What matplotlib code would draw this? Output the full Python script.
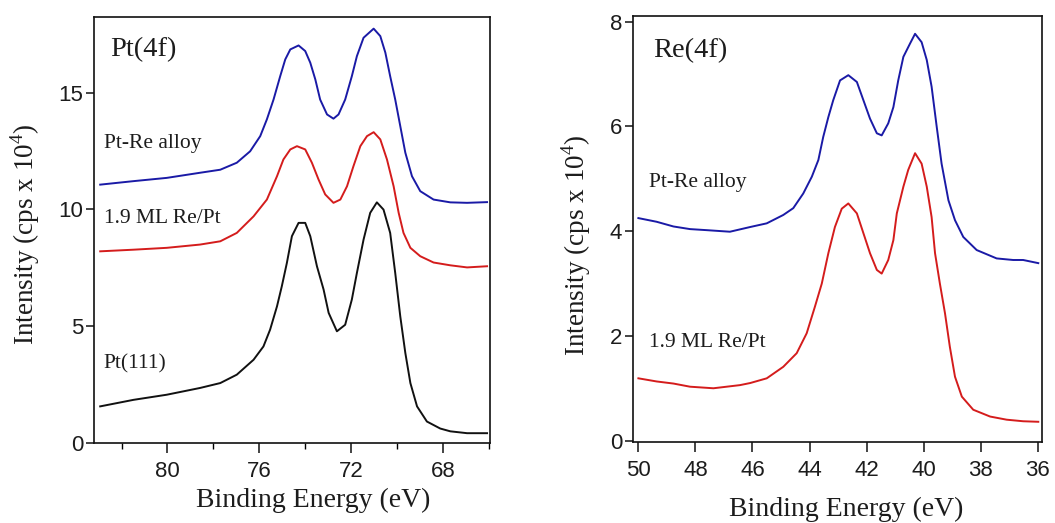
import matplotlib
matplotlib.use("Agg")
import matplotlib.pyplot as plt

plt.rcParams["mathtext.fontset"] = "custom"
plt.rcParams["mathtext.rm"] = "Liberation Serif"

# ---- Pt(4f) spectra (binding energy in eV, intensity in cps x 1e4) ----
pt_alloy_be = [82.93, 81.48, 80.03, 78.58, 77.70, 76.98, 76.40, 75.96, 75.67, 75.38,
               75.09, 74.87, 74.65, 74.29, 74.00, 73.78, 73.56, 73.35, 73.05, 72.77,
               72.55, 72.26, 71.97, 71.75, 71.46, 71.02, 70.73, 70.51, 70.30, 70.08,
               69.86, 69.64, 69.35, 68.99, 68.41, 67.68, 66.95, 66.08]
pt_alloy_int = [11.06, 11.21, 11.35, 11.57, 11.70, 12.00, 12.49, 13.14, 13.86, 14.71,
                15.71, 16.43, 16.86, 17.03, 16.79, 16.29, 15.57, 14.71, 14.07, 13.89,
                14.07, 14.71, 15.71, 16.57, 17.36, 17.75, 17.43, 16.72, 15.71, 14.71,
                13.57, 12.43, 11.42, 10.78, 10.42, 10.30, 10.28, 10.31]

pt_ml_be = [82.93, 81.48, 80.03, 78.58, 77.70, 76.98, 76.25, 75.67, 75.23, 74.95,
            74.65, 74.36, 74.00, 73.71, 73.42, 73.13, 72.77, 72.47, 72.18, 71.90,
            71.60, 71.31, 71.02, 70.73, 70.44, 70.15, 69.93, 69.72, 69.42, 68.99,
            68.41, 67.68, 66.95, 66.08]
pt_ml_int = [8.20, 8.27, 8.35, 8.49, 8.63, 8.99, 9.70, 10.42, 11.42, 12.14,
             12.57, 12.71, 12.57, 12.00, 11.28, 10.64, 10.28, 10.42, 10.99, 11.85,
             12.71, 13.14, 13.31, 13.00, 12.14, 10.99, 9.85, 8.99, 8.35, 7.99,
             7.72, 7.60, 7.51, 7.56]

pt111_be = [82.93, 81.48, 80.03, 78.58, 77.70, 76.98, 76.25, 75.82, 75.53, 75.23,
            75.02, 74.80, 74.58, 74.29, 74.00, 73.78, 73.49, 73.20, 72.98, 72.62,
            72.26, 71.97, 71.75, 71.46, 71.17, 70.88, 70.59, 70.30, 70.08, 69.86,
            69.64, 69.42, 69.13, 68.70, 68.12, 67.68, 66.95, 66.08]
pt111_int = [1.55, 1.83, 2.05, 2.34, 2.55, 2.91, 3.55, 4.12, 4.84, 5.84,
             6.70, 7.70, 8.85, 9.42, 9.42, 8.85, 7.56, 6.56, 5.56, 4.77,
             5.05, 6.13, 7.27, 8.70, 9.85, 10.30, 9.99, 8.99, 7.27, 5.41,
             3.84, 2.55, 1.55, 0.90, 0.60, 0.48, 0.40, 0.40]

# ---- Re(4f) spectra ----
re_alloy_be = [50.00, 49.36, 48.77, 48.19, 47.61, 46.79, 46.08, 45.50, 44.92, 44.57,
               44.22, 43.92, 43.69, 43.52, 43.34, 43.17, 42.93, 42.64, 42.34, 42.11,
               41.88, 41.64, 41.47, 41.24, 41.06, 40.89, 40.71, 40.48, 40.30, 40.07,
               39.89, 39.72, 39.54, 39.37, 39.13, 38.90, 38.61, 38.14, 37.44, 36.86,
               36.51, 35.98]
re_alloy_int = [4.25, 4.18, 4.09, 4.04, 4.02, 3.99, 4.08, 4.15, 4.31, 4.44,
                4.72, 5.04, 5.36, 5.80, 6.18, 6.50, 6.88, 6.98, 6.85, 6.50,
                6.15, 5.87, 5.83, 6.06, 6.37, 6.88, 7.33, 7.58, 7.77, 7.61,
                7.27, 6.76, 5.99, 5.29, 4.59, 4.21, 3.89, 3.64, 3.48, 3.45,
                3.45, 3.39]

re_ml_be = [50.00, 49.36, 48.77, 48.19, 47.37, 46.44, 46.08, 45.50, 44.92, 44.45,
            44.10, 43.81, 43.57, 43.34, 43.11, 42.87, 42.64, 42.34, 42.11, 41.88,
            41.64, 41.47, 41.24, 41.06, 40.94, 40.71, 40.54, 40.30, 40.07, 39.89,
            39.72, 39.60, 39.43, 39.25, 39.08, 38.90, 38.66, 38.26, 37.67, 37.09,
            36.51, 35.98]
re_ml_int = [1.19, 1.13, 1.09, 1.03, 1.00, 1.06, 1.10, 1.19, 1.41, 1.67,
             2.05, 2.56, 3.00, 3.58, 4.08, 4.43, 4.53, 4.34, 3.96, 3.58,
             3.26, 3.19, 3.45, 3.83, 4.34, 4.85, 5.17, 5.49, 5.29, 4.85,
             4.27, 3.58, 3.00, 2.43, 1.79, 1.22, 0.84, 0.59, 0.46, 0.40,
             0.37, 0.36]

pt_xticks = [80, 76, 72, 68]
pt_xminor = [82, 78, 74, 70, 66]
pt_yticks = [0, 5, 10, 15]
re_xticks = [50, 48, 46, 44, 42, 40, 38, 36]
re_yticks = [0, 2, 4, 6, 8]

BLUE = "#1a1aa6"
RED = "#d41c1c"
BLACK = "#111111"
SERIF = "Liberation Serif"
SANS = "Liberation Sans"
TXT = "#1c1c1c"

fig = plt.figure(figsize=(10.55, 5.23), dpi=100)
ax1 = fig.add_axes([0.0891, 0.1530, 0.3754, 0.8145])
ax2 = fig.add_axes([0.5997, 0.1555, 0.3877, 0.8139])

lw = 1.4
ax1.plot(pt_alloy_be, pt_alloy_int, color=BLUE, lw=lw)
ax1.plot(pt_ml_be, pt_ml_int, color=RED, lw=lw)
ax1.plot(pt111_be, pt111_int, color=BLACK, lw=lw)
ax1.set_xlim(83.2, 65.95)
ax1.set_ylim(-0.02, 18.25)
ax1.set_xticks(pt_xticks)
ax1.set_xticks(pt_xminor, minor=True)
ax1.set_yticks(pt_yticks)

ax2.plot(re_alloy_be, re_alloy_int, color=BLUE, lw=lw)
ax2.plot(re_ml_be, re_ml_int, color=RED, lw=lw)
ax2.set_xlim(50.2, 35.86)
ax2.set_ylim(-0.02, 8.11)
ax2.set_xticks(re_xticks)
ax2.set_yticks(re_yticks)

ylab = r"Intensity (cps x 10$^{4}$)"
for ax in (ax1, ax2):
    for sp in ax.spines.values():
        sp.set_linewidth(1.2)
        sp.set_color("#111111")
    ax.tick_params(axis="both", which="major", direction="out", width=1.1,
                   colors="#111111", labelcolor=TXT, labelsize=16)
    ax.tick_params(axis="x", which="major", length=7, pad=6)
    ax.tick_params(axis="y", which="major", length=5.5, pad=2)
    ax.tick_params(axis="x", which="minor", direction="out", length=4, width=1.0)
    for lab in ax.get_xticklabels() + ax.get_yticklabels():
        lab.set_fontfamily(SANS)
    ax.set_xlabel("Binding Energy (eV)", fontfamily=SERIF, fontsize=20,
                  color=TXT, va="center")
    ax.set_ylabel(ylab, fontfamily=SERIF, fontsize=19.5, color=TXT, va="center")

ax1.xaxis.set_label_coords(0.554, -0.134)
ax1.yaxis.set_label_coords(-0.174, 0.49)
ax2.xaxis.set_label_coords(0.521, -0.158)
ax2.yaxis.set_label_coords(-0.139, 0.462)

# panel titles and curve labels
ax1.text(0.040, 0.9225, "Pt(4f)", transform=ax1.transAxes, fontfamily=SERIF,
         fontsize=20.5, color=TXT, ha="left", va="center")
ax1.text(0.025, 0.702, "Pt-Re alloy", transform=ax1.transAxes, fontfamily=SERIF,
         fontsize=15.5, color=TXT, ha="left", va="center")
ax1.text(0.025, 0.528, "1.9 ML Re/Pt", transform=ax1.transAxes, fontfamily=SERIF,
         fontsize=15.5, color=TXT, ha="left", va="center")
ax1.text(0.025, 0.185, "Pt(111)", transform=ax1.transAxes, fontfamily=SERIF,
         fontsize=15.5, color=TXT, ha="left", va="center")

ax2.text(0.0496, 0.918, "Re(4f)", transform=ax2.transAxes, fontfamily=SERIF,
         fontsize=20.5, color=TXT, ha="left", va="center")
ax2.text(0.040, 0.608, "Pt-Re alloy", transform=ax2.transAxes, fontfamily=SERIF,
         fontsize=15.5, color=TXT, ha="left", va="center")
ax2.text(0.040, 0.232, "1.9 ML Re/Pt", transform=ax2.transAxes, fontfamily=SERIF,
         fontsize=15.5, color=TXT, ha="left", va="center")

fig.savefig("out.png", dpi=100)
